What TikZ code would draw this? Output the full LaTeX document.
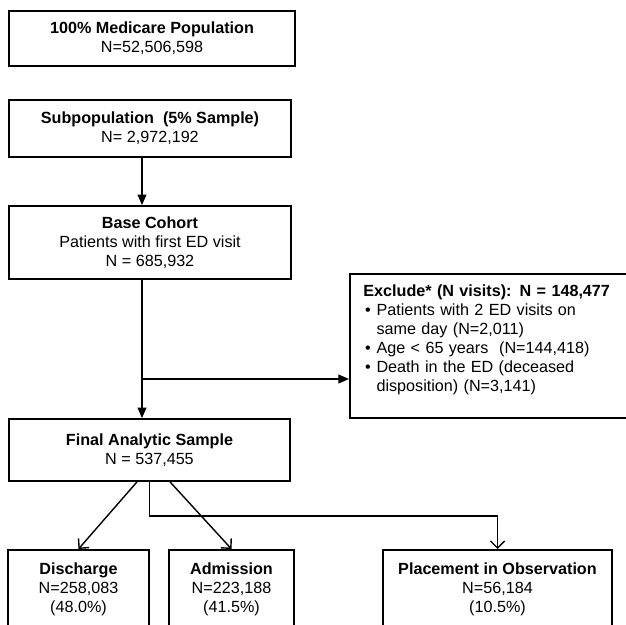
\documentclass[tikz,border=0pt]{standalone}
\usepackage{fontspec}
\setmainfont{Liberation Sans}
\usetikzlibrary{arrows.meta}

\newcommand{\bul}{\hspace*{1pt}\makebox[6.5pt][l]{\textbullet}}
\newcommand{\ind}{\hspace*{7.5pt}}

\tikzset{
  box/.style={draw, rectangle, line width=1pt, align=center, inner sep=0pt},
  openbox/.style={draw, rectangle, line width=1pt, align=center, anchor=north, inner xsep=0pt, inner ysep=0.26cm, text depth=2cm},
  arr/.style={-{Triangle[length=6pt,width=5pt]}, line width=0.8pt},
  barb/.style={-{Straight Barb[length=4pt,width=8pt]}, line width=0.8pt}
}

\begin{document}
\begin{tikzpicture}[x=0.02cm, y=-0.02cm, font=\fontsize{9.2}{10.8}\selectfont]
    \useasboundingbox (0,0) rectangle (626,625);
    \clip (0,0) rectangle (626,625);

    % Population
    \node[box, minimum width=5.72cm, minimum height=1.1cm] (pop) at (152,38.5) {\textbf{100\% Medicare Population}\\N=52,506,598};

    % Sample
    \node[box, minimum width=5.64cm, minimum height=1.14cm] (sub) at (150,128.5) {\textbf{Subpopulation\ \ (5\% Sample)}\\N= 2,972,192};

    % Base cohort
    \node[box, minimum width=5.64cm, minimum height=1.46cm] (base) at (150,242.5) {\textbf{Base Cohort}\\Patients with first ED visit\\N = 685,932};

    % Exclusions
    \node[draw, rectangle, line width=1pt, anchor=north west, align=left, text width=5.27cm, inner xsep=0.27cm, inner ysep=0.22cm] (excl) at (349,273) {\textbf{Exclude* (N visits): N = 148,477}\\
      \bul Patients with 2 ED visits on\\
      \ind same day (N=2,011)\\
      \bul Age < 65 years\ \ (N=144,418)\\
      \bul Death in the ED (deceased\\
      \ind disposition) (N=3,141)\rule[-0.31cm]{0pt}{0.31cm}};

    % Final sample
    \node[box, minimum width=5.62cm, minimum height=1.24cm] (final) at (149.5,450) {\textbf{Final Analytic Sample}\\N = 537,455};

    % Dispositions
    \node[openbox, minimum width=2.82cm] (disch) at (78.5,549) {\textbf{Discharge}\\N=258,083\\(48.0\%)};
    \node[openbox, minimum width=2.5cm] (adm) at (231.5,549) {\textbf{Admission}\\N=223,188\\(41.5\%)};
    \node[openbox, minimum width=4.58cm] (place) at (497.5,549) {\textbf{Placement in Observation}\\N=56,184\\(10.5\%)};

    % Arrows
    \coordinate (spine) at (142,0);
    \coordinate (split) at (142,379);
    \draw[arr] (sub.south -| spine) -- (base.north -| spine);
    \draw[arr] (base.south -| spine) -- (final.north -| spine);
    \draw[arr] (split) -- (split -| excl.west);

    \draw[barb] ([xshift=-0.25cm]final.south) -- (disch.north);
    \draw[barb] ([xshift=0.41cm]final.south) -- (adm.north);
    \draw[barb] (final.south) -- ++(0,34) -| (place.north);
\end{tikzpicture}
\end{document}
